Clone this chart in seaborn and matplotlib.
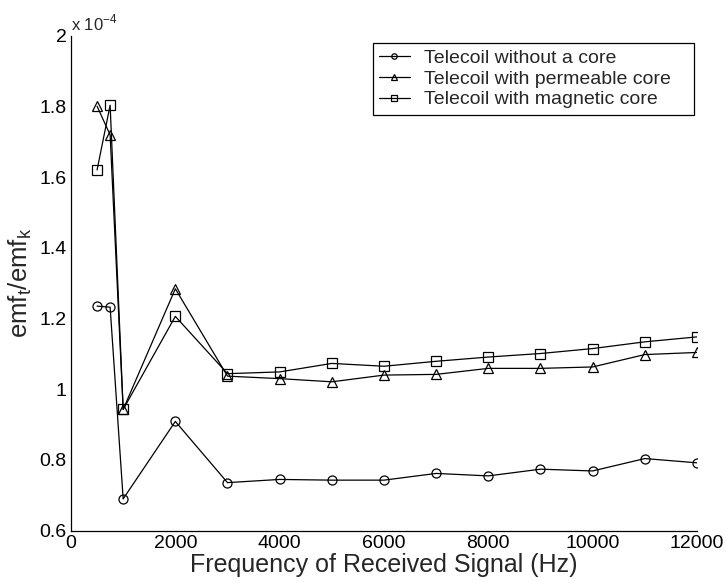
import matplotlib
matplotlib.use("Agg")
import matplotlib.pyplot as plt
import seaborn as sns
import pandas as pd

# Received-signal frequencies (Hz)
freq = [500, 750, 1000, 2000, 3000, 4000, 5000, 6000, 7000, 8000, 9000, 10000, 11000, 12000]

# emf ratio, in units of 1e-4
no_core = [1.235, 1.232, 0.690, 0.909, 0.736, 0.745, 0.743, 0.743, 0.762, 0.755, 0.774, 0.769, 0.804, 0.792]
permeable_core = [1.800, 1.719, 0.943, 1.284, 1.037, 1.030, 1.021, 1.040, 1.042, 1.059, 1.059, 1.063, 1.098, 1.104]
magnetic_core = [1.620, 1.803, 0.943, 1.206, 1.044, 1.049, 1.073, 1.065, 1.079, 1.091, 1.101, 1.115, 1.134, 1.148]

series_names = ["Telecoil without a core",
                "Telecoil with permeable core",
                "Telecoil with magnetic core"]
series_markers = ["o", "^", "s"]

x_ticks = [0, 2000, 4000, 6000, 8000, 10000, 12000]
y_ticks = [0.6, 0.8, 1.0, 1.2, 1.4, 1.6, 1.8, 2.0]
y_tick_labels = ["0.6", "0.8", "1", "1.2", "1.4", "1.6", "1.8", "2"]

sns.set_style("white")
plt.rcParams["font.family"] = ["Liberation Sans", "DejaVu Sans"]
plt.rcParams["mathtext.fontset"] = "custom"
plt.rcParams["mathtext.rm"] = "Liberation Sans"

fig = plt.figure(figsize=(7.26, 5.88), dpi=100)
ax = fig.add_axes([0.0978, 0.0974, 0.8622, 0.8422])

for name, values, mk in zip(series_names, [no_core, permeable_core, magnetic_core], series_markers):
    df = pd.DataFrame({"freq": freq, "ratio": values})
    sns.lineplot(data=df, x="freq", y="ratio", ax=ax, color="black", linewidth=0.9,
                 marker=mk, markersize=6.5, markerfacecolor="none",
                 markeredgecolor="black", markeredgewidth=0.9, label=name)

ax.set_xlim(0, 12000)
ax.set_ylim(0.6, 2.0)
ax.set_xticks(x_ticks)
ax.set_xticklabels([str(t) for t in x_ticks])
ax.set_yticks(y_ticks)
ax.set_yticklabels(y_tick_labels)

ax.tick_params(axis="both", direction="in", length=5, width=0.9, labelsize=14,
               colors="black", pad=3)
for side in ["top", "right"]:
    ax.spines[side].set_visible(False)
for side in ["left", "bottom"]:
    ax.spines[side].set_color("black")
    ax.spines[side].set_linewidth(0.9)

ax.set_xlabel("Frequency of Received Signal (Hz)", fontsize=18, labelpad=1)
ax.set_ylabel(r"$\mathregular{emf_t/emf_k}$", fontsize=18.5, labelpad=4)

ax.text(0.0, 1.005, r"x 10$^{-4}$", transform=ax.transAxes, fontsize=12,
        ha="left", va="bottom")

leg = ax.legend(loc="upper left", bbox_to_anchor=(0.4824, 0.5, 0.5128, 0.485),
                mode="expand", fontsize=14,
                frameon=True, fancybox=False, framealpha=1, edgecolor="black",
                handlelength=1.55, handletextpad=0.75, borderpad=0.33,
                labelspacing=0.16, numpoints=1, markerscale=0.6,
                borderaxespad=0.0)
leg.get_frame().set_linewidth(0.9)

fig.savefig("out.png", dpi=100, facecolor="white")
